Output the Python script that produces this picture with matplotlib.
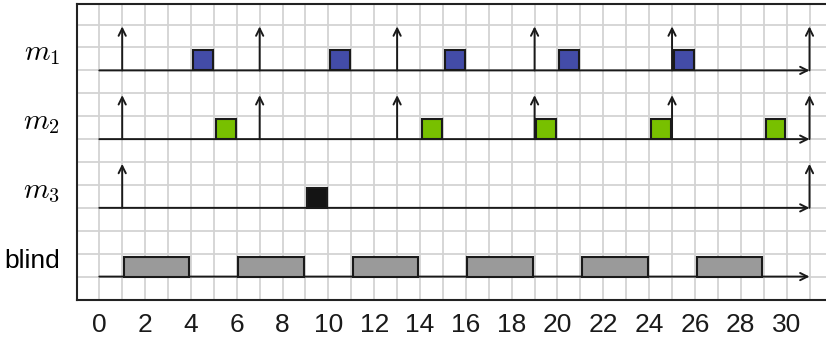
import matplotlib
matplotlib.use("Agg")
import matplotlib.pyplot as plt
from matplotlib.patches import Rectangle

plt.rcParams['font.family'] = ['Liberation Sans', 'DejaVu Sans']
plt.rcParams['mathtext.fontset'] = 'cm'

# ---- data ----
row_labels = ['$m_1$', '$m_2$', '$m_3$', 'blind']
row_base = [10, 7, 4, 1]
releases_m1 = [1, 7, 13, 19, 25, 31]
releases_m2 = [1, 7, 13, 19, 25, 31]
releases_m3 = [1, 31]
exec_m1 = [4, 10, 15, 20, 25]
exec_m2 = [5, 14, 19, 24, 29]
exec_m3 = [9]
blind_start = [1, 6, 11, 16, 21, 26]
blind_end = [4, 9, 14, 19, 24, 29]
xticks = list(range(0, 31, 2))
t_end = 31

releases = [releases_m1, releases_m2, releases_m3]
execs = [exec_m1, exec_m2, exec_m3]
exec_colors = ['#434ca8', '#78c000', '#141414']

W, H = 826, 338
fig = plt.figure(figsize=(W / 100, H / 100), dpi=100)
unit = 22.91
x0, x1 = -0.96, 32.0
y0, y1 = 0.0, 12.9
left_px = 77.3
bottom_px = H - 299.5
ax = fig.add_axes([left_px / W, bottom_px / H,
                   (x1 - x0) * unit / W, (y1 - y0) * unit / H])
ax.set_xlim(x0, x1)
ax.set_ylim(y0, y1)

# grid
for gx in range(0, 32):
    ax.axvline(gx, color='#d3d3d3', lw=1.3, zorder=0)
for gy in range(0, 13):
    ax.axhline(gy, color='#d3d3d3', lw=1.3, zorder=0)

line_col = '#1a1a1a'
arrow_kw = dict(arrowstyle='->', lw=1.4, color=line_col,
                mutation_scale=13, shrinkA=0, shrinkB=0)

# timelines
for b in row_base:
    ax.annotate('', xy=(t_end, b), xytext=(0, b), arrowprops=arrow_kw, zorder=3)

# release arrows
for rel, b in zip(releases, row_base[:3]):
    for r in rel:
        ax.annotate('', xy=(r, b + 1.92), xytext=(r, b), arrowprops=arrow_kw, zorder=4)

# execution blocks
sq = 0.87
for ex, b, c in zip(execs, row_base[:3], exec_colors):
    for e in ex:
        ax.add_patch(Rectangle((e + 0.08, b), sq, sq, facecolor=c,
                               edgecolor=line_col, lw=1.5, zorder=5))

# blind intervals
for s, e in zip(blind_start, blind_end):
    ax.add_patch(Rectangle((s + 0.07, row_base[3]), (e - s) - 0.14, 0.86,
                           facecolor='#9a9a9a', edgecolor=line_col, lw=1.5, zorder=5))

# row labels
for lab, b in zip(row_labels, row_base):
    if lab.startswith('$'):
        ax.text(-1.72, b + 0.45, lab, ha='right', va='baseline', fontsize=21,
                clip_on=False)
    else:
        ax.text(-1.72, b + 0.37, lab, ha='right', va='baseline', fontsize=19,
                clip_on=False)

ax.set_xticks(xticks)
ax.set_xticklabels([str(t) for t in xticks])
ax.set_yticks([])
ax.tick_params(axis='x', length=0, pad=10, labelsize=19, colors='#1a1a1a')
for sp in ax.spines.values():
    sp.set_color('#222222')
    sp.set_linewidth(1.5)

fig.savefig('out.png', dpi=100)
